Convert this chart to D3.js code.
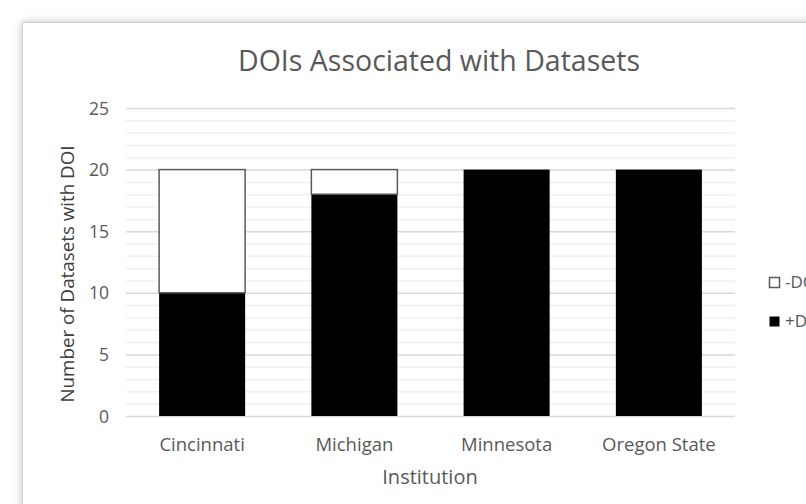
<!DOCTYPE html>
<html><head><meta charset="utf-8">
<script src="https://cdn.jsdelivr.net/npm/d3@7"></script>
<style>html,body{margin:0;padding:0;background:#fff;overflow:hidden}</style>
</head><body>
<svg id="c" width="806" height="504"></svg>
<script>
const categories = ["Cincinnati","Michigan","Minnesota","Oregon State"];
const plusDOI = [10,18,20,20];
const minusDOI = [10,2,0,0];
const yTicks = [0,5,10,15,20,25];
const seriesNames = ["+DOI","-DOI"];

const svg = d3.select("#c");
const font = "'Open Sans', 'Noto Sans', sans-serif";
const defs = svg.append("defs");
const f = defs.append("filter").attr("id","sh").attr("x","-5%").attr("y","-5%").attr("width","110%").attr("height","110%");
f.append("feGaussianBlur").attr("in","SourceAlpha").attr("stdDeviation",4);
f.append("feOffset").attr("dx",0).attr("dy",0).attr("result","b");
f.append("feComponentTransfer").append("feFuncA").attr("type","linear").attr("slope",0.25);
const m = f.append("feMerge"); m.append("feMergeNode"); m.append("feMergeNode").attr("in","SourceGraphic");

svg.append("rect").attr("x",22.5).attr("y",22.5).attr("width",820).attr("height",520)
  .attr("fill","#fff").attr("stroke","#d0d0d0").attr("filter","url(#sh)");

const x = d3.scaleBand().domain(categories).range([126,735]).paddingInner(0.435).paddingOuter(0.2175);
const y = d3.scaleLinear().domain([0,25]).range([416,108]);

const minor = d3.range(0,26).filter(v=>v%5!==0);
svg.append("g").selectAll("line").data(minor).join("line")
  .attr("x1",126).attr("x2",735).attr("y1",d=>y(d)+0.5).attr("y2",d=>y(d)+0.5)
  .attr("stroke","#f0f0f0").attr("stroke-width",1.5);
svg.append("g").selectAll("line").data(yTicks).join("line")
  .attr("x1",126).attr("x2",735).attr("y1",d=>y(d)+0.5).attr("y2",d=>y(d)+0.5)
  .attr("stroke","#d9d9d9").attr("stroke-width",1.5);

const data = categories.map((c,i)=>({cat:c,"+DOI":plusDOI[i],"-DOI":minusDOI[i]}));
const stack = d3.stack().keys(seriesNames)(data);
const fills = {"+DOI":"#000","-DOI":"#fff"};
svg.append("g").selectAll("g").data(stack).join("g")
  .attr("fill",d=>fills[d.key])
  .attr("stroke",d=>d.key==="-DOI"?"#595959":"none").attr("stroke-width",1.5)
  .selectAll("rect").data(d=>d.filter(s=>s[1]-s[0]>0)).join("rect")
  .attr("x",d=>x(d.data.cat)).attr("width",x.bandwidth())
  .attr("y",d=>y(d[1])).attr("height",d=>y(d[0])-y(d[1]));

const yAxis = d3.axisLeft(y).tickValues(yTicks).tickSize(0).tickPadding(0);
const ya = svg.append("g").attr("transform","translate(109,0)").call(yAxis);
ya.select(".domain").remove();
ya.selectAll("text").attr("font-family",font).attr("font-size",17.5).attr("fill","#595959").attr("dy","0.35em");

const xAxis = d3.axisBottom(x).tickSize(0).tickPadding(0);
const xa = svg.append("g").attr("transform","translate(0,451)").call(xAxis);
xa.select(".domain").remove();
xa.selectAll("text").attr("font-family",font).attr("font-size",18.5).attr("fill","#595959").attr("dy","0");

svg.append("text").attr("x",439).attr("y",71).attr("text-anchor","middle")
  .attr("font-family",font).attr("font-size",28.5).attr("fill","#595959").text("DOIs Associated with Datasets");
svg.append("text").attr("x",430).attr("y",484).attr("text-anchor","middle")
  .attr("font-family",font).attr("font-size",20).attr("fill","#595959").text("Institution");
svg.append("text").attr("transform","translate(74,274) rotate(-90)").attr("text-anchor","middle")
  .attr("font-family",font).attr("font-size",18.8).attr("fill","#404040").text("Number of Datasets with DOI");

const legend = ["-DOI","+DOI"];
const lg = svg.append("g").selectAll("g").data(legend).join("g")
  .attr("transform",(d,i)=>`translate(769,${277+i*39})`);
lg.append("rect").attr("x",0.5).attr("y",0.5).attr("width",10).attr("height",10)
  .attr("fill",d=>fills[d]).attr("stroke",d=>d==="-DOI"?"#595959":"none").attr("stroke-width",1.5);
lg.append("text").attr("x",16).attr("y",5.5).attr("dy","0.35em").attr("font-family",font).attr("font-size",17)
  .attr("fill","#595959").text(d=>d);
</script>
</body></html>
